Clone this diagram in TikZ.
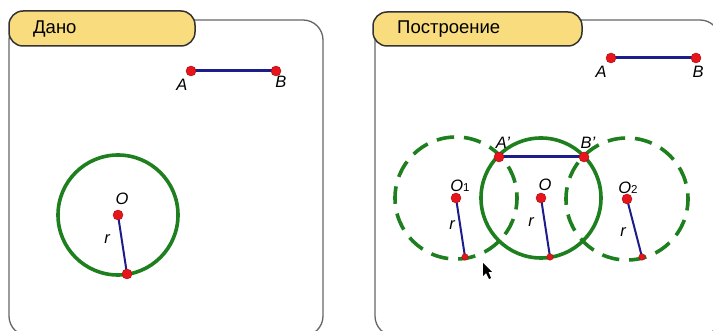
\documentclass[tikz,border=0pt]{standalone}
\usepackage{fontspec}
\setmainfont{Liberation Sans}
\begin{document}
\begin{tikzpicture}[x=1pt,y=-1pt,
  panel/.style={draw=black!60,line width=1.3pt,rounded corners=20pt},
  tab/.style={draw=black!80,line width=1.5pt,fill=tabyellow,rounded corners=14pt},
  tabtext/.style={font=\fontsize{18.5}{20}\selectfont,anchor=west,inner sep=0pt},
  pt/.style={circle,fill=ptred,draw=ptred!70!black,line width=0.4pt,inner sep=0pt,minimum size=10pt},
  spt/.style={pt,minimum size=6.5pt},
  lbl/.style={font=\fontsize{16.5}{18}\selectfont\itshape,inner sep=0pt},
  sub/.style={font=\fontsize{11.5}{12}\selectfont\upshape},
  seg/.style={draw=segblue,line width=3pt},
  rad/.style={draw=segblue,line width=2pt},
  circ/.style={draw=circgreen,line width=3.6pt},
  dcirc/.style={draw=circgreen,line width=3.6pt,dash pattern=on 17.5pt off 9.9pt,dash phase=6pt}
]
\definecolor{tabyellow}{HTML}{F8DC7E}
\definecolor{ptred}{HTML}{E8141B}
\definecolor{segblue}{HTML}{1C1C8A}
\definecolor{circgreen}{HTML}{1E7F1E}
\useasboundingbox (0,0) rectangle (713,331);
\fill[white] (0,0) rectangle (713,331);

% ---------- left panel ----------
\draw[panel] (9,20) rectangle (323,336);
\draw[tab] (9,11) rectangle (195,46);
\node[tabtext] (t1) at (33,29) {Дано};

\coordinate (LA) at (191,71);
\coordinate (LB) at (276,71);
\coordinate (LO) at (118,215);
\coordinate (LP) at (127,274);
\draw[circ] (LO) circle (60);
\draw[seg] (LA) -- (LB);
\draw[rad] (LO) -- (LP);
\node[pt] (lA) at (LA) {};
\node[pt] (lB) at (LB) {};
\node[pt] (lO) at (LO) {};
\node[pt] (lP) at (LP) {};
\node[lbl] (lAl) at (182,85) {A};
\node[lbl] (lBl) at (281,82) {B};
\node[lbl] (lOl) at (122,199) {O};
\node[lbl] (lrl) at (107,239) {r};

% ---------- right panel ----------
\draw[panel] (375,20) rectangle (720,336);
\draw[tab] (373,12) rectangle (582,46);
\node[tabtext] (t2) at (397,29) {Построение};

\coordinate (RA) at (611,58);
\coordinate (RB) at (696,58);
\coordinate (RO) at (541,198);
\coordinate (RP) at (550,257);
\coordinate (RO1) at (456,198);
\coordinate (RP1) at (465,257);
\coordinate (RO2) at (627,199);
\coordinate (RP2) at (642,257);
\coordinate (RA1) at (499,157);
\coordinate (RB1) at (584,157);

\draw[dcirc] (RO1) circle (61);
\draw[dcirc] (RO2) circle (61);
\draw[circ] (RO) circle (60);
\draw[seg] (RA) -- (RB);
\draw[seg] (RA1) -- (RB1);
\draw[rad] (RO) -- (RP);
\draw[rad] (RO1) -- (RP1);
\draw[rad] (RO2) -- (RP2);
\node[pt] (rA) at (RA) {};
\node[pt] (rB) at (RB) {};
\node[pt] (rA1) at (RA1) {};
\node[pt] (rB1) at (RB1) {};
\node[pt] (rO) at (RO) {};
\node[pt] (rO1) at (RO1) {};
\node[pt] (rO2) at (RO2) {};
\node[spt] (rP) at (RP) {};
\node[spt] (rP1) at (RP1) {};
\node[spt] (rP2) at (RP2) {};
\node[lbl] (rAl) at (601,72) {A};
\node[lbl] (rBl) at (698,72) {B};
\node[lbl] (rA1l) at (503,143) {A'};
\node[lbl] (rB1l) at (588,143) {B'};
\node[lbl] (rOl) at (545,185) {O};
\node[lbl] (rO1l) at (460,186) {O{\fontsize{11.5}{12}\selectfont\upshape 1}};
\node[lbl] (rO2l) at (628,188) {O{\fontsize{11.5}{12}\selectfont\upshape 2}};
\node[lbl] (rrl) at (531,222) {r};
\node[lbl] (rr1l) at (452,225) {r};
\node[lbl] (rr2l) at (623,232) {r};

% cursor
\fill[black] (483,263) -- (483,276) -- (486,273) -- (489,279) -- (491,278) -- (488.5,272) -- (492,272) -- cycle;
\end{tikzpicture}
\end{document}
